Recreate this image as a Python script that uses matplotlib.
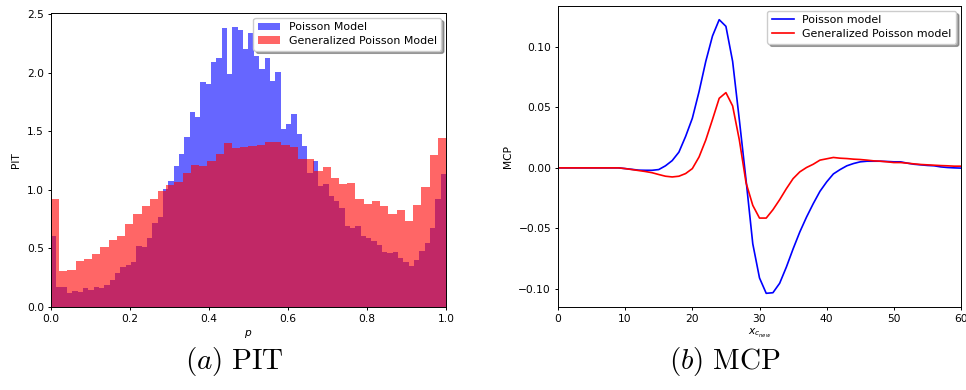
import numpy as np
import matplotlib
matplotlib.use("Agg")
import matplotlib.pyplot as plt

# ---------------- data ----------------
# PIT histogram (densities), bins evenly spaced on [0, 1]
pit_poisson = [0.605, 0.17, 0.17, 0.119, 0.136, 0.128, 0.162, 0.145, 0.17, 0.162,
               0.187, 0.23, 0.29, 0.34, 0.358, 0.383, 0.52, 0.511, 0.588, 0.718,
               0.77, 1.005, 1.073, 1.204, 1.303, 1.448, 1.661, 1.618, 1.925, 1.908,
               2.095, 2.13, 2.385, 1.985, 2.393, 2.368, 2.203, 2.34, 2.146, 2.033,
               2.124, 1.928, 2.01, 1.522, 1.564, 1.65, 1.479, 1.371, 1.147, 1.244,
               1.03, 1.053, 0.945, 0.906, 0.846, 0.69, 0.676, 0.69, 0.605, 0.59,
               0.562, 0.528, 0.468, 0.46, 0.468, 0.417, 0.383, 0.349, 0.40, 0.477,
               0.545, 0.673, 0.92, 1.133]
pit_genpoisson = [0.92, 0.307, 0.315, 0.392, 0.409, 0.451, 0.511, 0.571, 0.605, 0.707,
                  0.792, 0.86, 0.92, 0.988, 1.039, 1.065, 1.141, 1.21, 1.201, 1.244,
                  1.303, 1.397, 1.354, 1.363, 1.371, 1.38, 1.411, 1.405, 1.38, 1.363,
                  1.261, 1.261, 1.158, 1.193, 1.099, 1.048, 1.056, 0.92, 0.877, 0.903,
                  0.86, 0.792, 0.826, 0.733, 0.869, 1.022, 1.295, 1.44]

# MCP curves at x = 0 .. 60
mcp_x = list(range(0, 61))
mcp_poisson = [0, 0, 0, 0, 0, 0, 0, 0, 0, 0,
               -0.0006, -0.0012, -0.0019, -0.002, -0.002, -0.0014, 0.0017, 0.006, 0.013, 0.026,
               0.041, 0.063, 0.088, 0.109, 0.1225, 0.117, 0.088, 0.0396, -0.0102, -0.0628,
               -0.091, -0.1037, -0.1032, -0.0954, -0.082, -0.067, -0.053, -0.0407, -0.0296, -0.0194,
               -0.0116, -0.005, -0.0014, 0.0017, 0.0036, 0.005, 0.0055, 0.0055, 0.0055, 0.0053,
               0.005, 0.005, 0.0039, 0.003, 0.0025, 0.002, 0.0017, 0.0008, 0.0003, 0.0, -0.0002]
mcp_genpoisson = [0, 0, 0, 0, 0, 0, 0, 0, 0, 0,
                  -0.0006, -0.0014, -0.0022, -0.003, -0.004, -0.0055, -0.0069, -0.0075, -0.0069, -0.0047,
                  -0.0006, 0.009, 0.023, 0.04, 0.0575, 0.0622, 0.0512, 0.023, -0.0124, -0.031,
                  -0.0415, -0.0415, -0.0346, -0.0263, -0.0172, -0.0089, -0.0033, 0.0003, 0.003, 0.0064,
                  0.0075, 0.0086, 0.008, 0.0077, 0.0072, 0.0069, 0.0064, 0.0058, 0.0055, 0.005,
                  0.0044, 0.0044, 0.0039, 0.0033, 0.0028, 0.0025, 0.0022, 0.0019, 0.0017, 0.0014, 0.0014]

labels_pit = ["Poisson Model", "Generalized Poisson Model"]
labels_mcp = ["Poisson model", "Generalized Poisson model"]
captions = [r"$(a)\ \mathrm{PIT}$", r"$(b)\ \mathrm{MCP}$"]

# ---------------- figure ----------------
FS = 7.7
plt.rcParams.update({
    "font.size": FS,
    "xtick.labelsize": FS,
    "ytick.labelsize": FS,
    "legend.fontsize": 7.9,
    "axes.linewidth": 0.7,
    "xtick.major.size": 2.5,
    "ytick.major.size": 2.5,
    "xtick.major.width": 0.7,
    "ytick.major.width": 0.7,
    "xtick.major.pad": 2.5,
    "ytick.major.pad": 2.5,
})

fig = plt.figure(figsize=(9.66, 3.90), dpi=100)
ax1 = fig.add_axes([51 / 966, 83 / 390, 395 / 966, 294 / 390])
ax2 = fig.add_axes([558 / 966, 83 / 390, 403 / 966, 301 / 390])

# PIT histogram
e_b = np.linspace(0, 1, len(pit_poisson) + 1)
e_r = np.linspace(0, 1, len(pit_genpoisson) + 1)
ax1.bar(e_b[:-1], pit_poisson, width=np.diff(e_b), align="edge",
        color="blue", alpha=0.6, label=labels_pit[0])
ax1.bar(e_r[:-1], pit_genpoisson, width=np.diff(e_r), align="edge",
        color="red", alpha=0.6, label=labels_pit[1])
ax1.set_xlim(0, 1)
ax1.set_ylim(0, 2.51)
ax1.set_xticks(np.arange(0, 1.01, 0.2))
ax1.set_yticks(np.arange(0, 2.51, 0.5))
ax1.set_xlabel(r"$p$", labelpad=3)
ax1.set_ylabel("PIT", labelpad=4)
ax1.legend(loc="upper right", shadow=True, borderpad=0.4, handlelength=2.0,
           labelspacing=0.35, borderaxespad=0.45)

# MCP lines
ax2.plot(mcp_x, mcp_poisson, color="blue", lw=1.2, label=labels_mcp[0])
ax2.plot(mcp_x, mcp_genpoisson, color="red", lw=1.2, label=labels_mcp[1])
ax2.set_xlim(0, 60)
ax2.set_xticks(np.arange(0, 61, 10))
ax2.set_yticks([-0.10, -0.05, 0.0, 0.05, 0.10])
ax2.set_xlabel(r"$x_{c_{new}}$", labelpad=2)
ax2.set_ylabel("MCP", labelpad=4)
ax2.legend(loc="upper right", shadow=True, borderpad=0.4, handlelength=2.0,
           labelspacing=0.35, borderaxespad=0.45)

# captions
fig.text(234 / 966, 1 - 362 / 390, captions[0], ha="center", va="center",
         fontsize=21, math_fontfamily="cm")
fig.text(725 / 966, 1 - 362 / 390, captions[1], ha="center", va="center",
         fontsize=21, math_fontfamily="cm")

fig.savefig("out.png", dpi=100)
